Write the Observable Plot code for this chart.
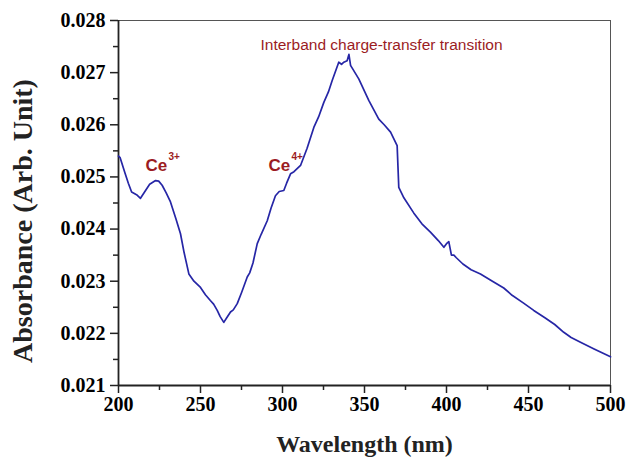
<!DOCTYPE html>
<html>
<head>
<meta charset="utf-8">
<script src="https://cdn.jsdelivr.net/npm/d3@7"></script>
<script src="https://cdn.jsdelivr.net/npm/@observablehq/plot@0.6"></script>
<style>
  html, body { margin: 0; padding: 0; background: #fff; }
</style>
</head>
<body>
<div id="chart"></div>
<script>
const wavelength = [200, 201, 204, 206, 208, 211, 213.4, 216.5, 219, 222.6, 224.5, 226.6, 229, 231.7, 235, 237.8, 240, 242.9, 246, 250, 253, 256, 258, 260.2, 262, 264.2, 266, 268.3, 270, 272.4, 275, 278.5, 280, 282, 284.6, 287, 290.7, 293, 295.7, 298, 300.8, 302.5, 304.9, 307, 311, 315, 319.1, 322, 325.2, 328, 330.3, 334.3, 336, 337.4, 339.4, 340.5, 341.5, 346.5, 352.6, 358.7, 362, 365.9, 369.9, 370.9, 374, 380, 385, 390.2, 395, 398.4, 400, 401.4, 403, 404.5, 406, 410, 415, 420.7, 428, 434.9, 440, 447, 453.2, 460, 466, 471.5, 476, 481.7, 490, 500];
const absorbance = [0.02540, 0.02537, 0.02507, 0.02488, 0.02471, 0.02466, 0.02459, 0.02474, 0.02486, 0.02493, 0.02492, 0.02484, 0.02470, 0.02452, 0.02420, 0.02391, 0.02355, 0.02314, 0.02300, 0.02288, 0.02274, 0.02263, 0.02256, 0.02244, 0.02232, 0.02221, 0.02230, 0.02241, 0.02245, 0.02257, 0.02278, 0.02308, 0.02316, 0.02335, 0.02372, 0.02390, 0.02416, 0.02440, 0.02464, 0.02472, 0.02474, 0.02488, 0.02506, 0.02510, 0.02522, 0.02555, 0.02595, 0.02615, 0.02643, 0.02663, 0.02685, 0.02720, 0.02716, 0.02720, 0.02723, 0.02735, 0.02714, 0.02688, 0.02647, 0.02611, 0.02600, 0.02586, 0.02560, 0.02480, 0.02460, 0.02431, 0.02410, 0.02394, 0.02378, 0.02365, 0.02372, 0.02376, 0.02350, 0.02350, 0.02345, 0.02333, 0.02322, 0.02314, 0.02300, 0.02287, 0.02273, 0.02258, 0.02244, 0.02230, 0.02217, 0.02202, 0.02192, 0.02183, 0.02170, 0.02155];

const xTicks = [200, 250, 300, 350, 400, 450, 500];
const xMinorTicks = [225, 275, 325, 375, 425, 475];
const yTicks = [0.021, 0.022, 0.023, 0.024, 0.025, 0.026, 0.027, 0.028];
const yMinorTicks = [0.0215, 0.0225, 0.0235, 0.0245, 0.0255, 0.0265, 0.0275];

const xLabel = "Wavelength (nm)";
const yLabel = "Absorbance (Arb. Unit)";

// annotations: [wavelength, absorbance, base text, superscript]
const ionLabels = [
  {x: 216.5, y: 0.02512, text: "Ce", sup: "3+"},
  {x: 291.5, y: 0.02512, text: "Ce", sup: "4+"}
];
const bandLabel = [{x: 360.4, y: 0.027425, text: "Interband charge-transfer transition"}];

const data = wavelength.map((w, i) => ({w, a: absorbance[i]}));

const serif = "'Liberation Serif', 'Times New Roman', serif";
const sans = "'Liberation Sans', Arial, sans-serif";
const red = "#9b1c1f";

const chart = Plot.plot({
  width: 627,
  height: 458,
  marginLeft: 118,
  marginRight: 17,
  marginTop: 20,
  marginBottom: 73,
  style: {background: "#fff", fontFamily: serif},
  x: {domain: [200, 500]},
  y: {domain: [0.021, 0.028]},
  marks: [
    Plot.frame({stroke: "#555", strokeWidth: 1}),
    Plot.axisX({ticks: xTicks, tickSize: 8, tickPadding: 3, tickFormat: d3.format("d"),
      fontSize: 20, fontWeight: "bold", fontFamily: serif, label: null, stroke: "#222", strokeWidth: 1.5}),
    Plot.axisX({ticks: xMinorTicks, tickSize: 5, tickFormat: () => "", label: null, stroke: "#222", strokeWidth: 1.5}),
    Plot.axisY({ticks: yTicks, tickSize: 8, tickPadding: 5, tickFormat: d3.format(".3f"),
      fontSize: 20, fontWeight: "bold", fontFamily: serif, label: null, stroke: "#222", strokeWidth: 1.5}),
    Plot.axisY({ticks: yMinorTicks, tickSize: 5, tickFormat: () => "", label: null, stroke: "#222", strokeWidth: 1.5}),
    Plot.ruleX([200], {stroke: "#222", strokeWidth: 1.8}),
    Plot.ruleY([0.021], {stroke: "#222", strokeWidth: 1.8}),
    Plot.line(data, {x: "w", y: "a", stroke: "#2626a6", strokeWidth: 1.7}),
    Plot.text(ionLabels, {x: "x", y: "y", text: "text", textAnchor: "start", lineAnchor: "bottom",
      fill: red, fontSize: 17, fontWeight: "bold", fontFamily: sans}),
    Plot.text(ionLabels, {x: "x", y: "y", text: "sup", textAnchor: "start", lineAnchor: "bottom",
      dx: 23, dy: -11, fill: red, fontSize: 10, fontWeight: "bold", fontFamily: sans}),
    Plot.text(bandLabel, {x: "x", y: "y", text: "text", textAnchor: "middle", lineAnchor: "bottom",
      fill: red, fontSize: 15.5, fontFamily: sans}),
    Plot.text([xLabel], {frameAnchor: "bottom", lineAnchor: "bottom", dy: 66, fontSize: 24,
      fontWeight: "bold", fontFamily: serif, fill: "#222"}),
    Plot.text([yLabel], {frameAnchor: "left", rotate: -90, dx: -95, dy: 18, textAnchor: "middle",
      fontSize: 28, fontWeight: "bold", fontFamily: serif, fill: "#222"})
  ]
});
document.getElementById("chart").append(chart);
</script>
</body>
</html>
